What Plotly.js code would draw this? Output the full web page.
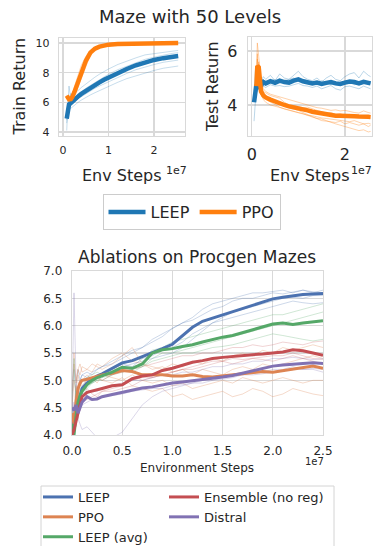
<!DOCTYPE html>
<html>
<head>
<meta charset="utf-8">
<script src="https://cdn.plot.ly/plotly-3.0.1.min.js"></script>
<style>html,body{margin:0;padding:0;background:#fff;}#chart{width:375px;height:546px;}</style>
</head>
<body>
<div id="chart"></div>
<script>
// ---------- Maze with 50 Levels: Train Return (x in units of 1e7 env steps) ----------
const trainX = [0.08,0.1,0.13,0.17,0.2,0.25,0.3,0.35,0.4,0.5,0.6,0.7,0.8,0.9,1.0,1.2,1.4,1.6,1.8,2.0,2.2,2.4,2.53];
const trainLEEP = [4.9,5.65,5.85,5.95,6.05,6.2,6.32,6.45,6.57,6.78,6.98,7.17,7.35,7.52,7.68,7.98,8.25,8.5,8.7,8.86,8.98,9.08,9.13];
const trainPPO  = [6.45,6.3,6.2,6.22,6.35,6.7,7.1,7.5,7.95,8.8,9.35,9.62,9.76,9.84,9.89,9.94,9.96,9.97,9.98,9.99,10.0,10.0,10.0];
const trainLEEPSeed1 = [4.6,5.4,6.2,6.6,6.5,6.6,6.7,6.85,7.0,7.25,7.45,7.7,7.9,8.1,8.25,8.55,8.8,9.0,9.2,9.3,9.4,9.45,9.5];
const trainLEEPSeed2 = [5.0,5.9,5.8,6.0,6.1,6.3,6.45,6.6,6.7,6.95,7.15,7.35,7.55,7.7,7.9,8.2,8.45,8.7,8.9,9.05,9.2,9.3,9.35];
const trainLEEPSeed3 = [4.1,5.5,5.6,5.8,5.9,6.0,6.15,6.3,6.45,6.65,6.9,7.05,7.25,7.45,7.6,7.9,8.2,8.5,8.7,8.9,9.0,9.1,9.2];
const trainLEEPSeed4 = [5.2,5.7,7.1,6.2,6.0,6.1,6.2,6.3,6.4,6.6,6.8,6.95,7.1,7.25,7.4,7.7,7.95,8.2,8.4,8.55,8.7,8.8,8.85];
const trainLEEPSeed5 = [4.8,5.3,5.5,5.6,5.7,5.85,5.95,6.05,6.15,6.35,6.5,6.65,6.8,6.95,7.1,7.35,7.6,7.8,8.0,8.15,8.3,8.4,8.45];
const trainPPOSeed1 = [6.5,6.35,6.3,6.4,6.6,7.1,7.6,8.1,8.5,9.1,9.5,9.7,9.8,9.86,9.9,9.95,9.97,9.98,9.99,10,10,10,10];
const trainPPOSeed2 = [6.4,6.25,6.15,6.2,6.3,6.5,6.8,7.2,7.6,8.5,9.2,9.55,9.72,9.8,9.86,9.92,9.95,9.97,9.98,9.99,10,10,10];

// ---------- Test Return ----------
const testX = [0.05,0.08,0.1,0.12,0.15,0.2,0.25,0.3,0.4,0.5,0.6,0.7,0.8,0.9,1.0,1.1,1.2,1.3,1.4,1.5,1.6,1.7,1.8,1.9,2.0,2.1,2.2,2.3,2.4,2.5,2.55];
const testLEEP = [4.1,4.6,4.75,4.65,4.7,4.72,4.85,4.8,4.88,4.82,4.9,4.85,4.83,4.9,4.95,4.88,4.85,4.8,4.83,4.78,4.82,4.85,4.8,4.78,4.83,4.87,4.85,4.8,4.86,4.82,4.8];
const testPPO  = [null,null,4.7,5.45,5.4,4.5,4.35,4.28,4.2,4.12,4.05,4.0,3.95,3.92,3.88,3.84,3.8,3.75,3.72,3.68,3.63,3.62,3.6,3.6,3.58,3.6,3.58,3.57,3.58,3.56,3.55];
const testLEEPSeed1 = [3.4,4.3,5.0,5.2,4.8,4.9,5.05,4.95,5.1,4.9,5.15,5.0,4.95,5.1,5.25,5.05,4.95,4.9,5.0,4.85,5.0,5.1,4.95,4.9,5.05,5.15,5.2,5.0,5.25,5.1,5.05];
const testLEEPSeed2 = [4.3,4.9,4.6,4.5,4.6,4.55,4.7,4.65,4.75,4.7,4.72,4.68,4.7,4.75,4.8,4.72,4.7,4.65,4.7,4.6,4.65,4.72,4.6,4.55,4.68,4.7,4.65,4.6,4.7,4.62,4.6];
const testLEEPSeed3 = [4.5,5.3,4.8,4.9,4.75,4.8,4.95,4.85,4.9,4.95,4.85,4.9,4.95,5.0,4.9,4.95,4.9,4.85,4.8,4.9,4.85,4.75,4.85,4.8,4.9,4.85,4.75,4.8,4.8,4.85,4.8];
const testPPOSeed1 = [null,null,5.0,6.3,5.8,4.9,4.6,4.5,4.4,4.35,4.3,4.25,4.2,4.15,4.1,4.05,4.0,3.95,3.9,3.88,3.85,3.8,3.82,3.78,3.8,3.75,3.72,3.7,3.78,3.72,3.7];
const testPPOSeed2 = [null,null,4.5,5.7,5.2,4.6,4.4,4.3,4.25,4.15,4.05,3.95,3.9,3.85,3.8,3.72,3.65,3.58,3.5,3.42,3.4,3.38,3.35,3.4,3.3,3.35,3.3,3.25,3.3,3.2,3.25];
const testPPOSeed3 = [null,null,4.3,5.2,5.6,4.4,4.2,4.1,4.0,3.95,3.9,3.85,3.8,3.75,3.72,3.68,3.6,3.55,3.5,3.48,3.42,3.35,3.3,3.25,3.2,3.15,3.1,3.05,3.08,3.0,3.02];
const testPPOSeed4 = [null,null,4.8,5.9,5.0,4.7,4.5,4.45,4.35,4.3,4.25,4.1,4.0,3.98,3.95,3.9,3.92,3.85,3.8,3.75,3.7,3.72,3.65,3.68,3.6,3.65,3.62,3.58,3.55,3.6,3.5];
const testPPOSeed5 = [null,null,4.6,5.3,5.1,4.4,4.25,4.2,4.1,4.0,3.92,3.85,3.8,3.75,3.7,3.65,3.62,3.6,3.55,3.52,3.5,3.48,3.45,3.42,3.4,3.38,3.42,3.35,3.3,3.32,3.3];

// ---------- Ablations on Procgen Mazes ----------
const ablX = [0,0.02,0.04,0.06,0.08,0.1,0.15,0.2,0.25,0.3,0.4,0.5,0.6,0.7,0.8,0.9,1.0,1.1,1.2,1.3,1.4,1.5,1.6,1.7,1.8,1.9,2.0,2.1,2.2,2.3,2.4,2.5];
const ablLEEP     = [4.3,4.1,4.5,4.6,4.7,4.85,4.95,5.02,5.08,5.12,5.22,5.32,5.36,5.43,5.5,5.58,5.66,5.82,5.97,6.08,6.14,6.2,6.26,6.31,6.38,6.44,6.49,6.52,6.55,6.57,6.58,6.59];
const ablPPO      = [4.4,4.2,4.6,4.85,4.95,5.0,5.02,5.05,5.07,5.1,5.13,5.18,5.16,5.1,5.1,5.1,5.08,5.08,5.1,5.07,5.06,5.08,5.1,5.12,5.14,5.16,5.15,5.18,5.2,5.23,5.26,5.22];
const ablLEEPavg  = [4.2,4.0,4.35,4.6,4.72,4.8,4.92,5.0,5.05,5.08,5.15,5.24,5.22,5.3,5.5,5.56,5.58,5.62,5.65,5.7,5.75,5.79,5.82,5.87,5.92,5.98,6.03,6.05,6.02,6.05,6.07,6.09];
const ablEnsemble = [4.0,4.1,4.25,4.4,4.6,4.7,4.78,4.8,4.82,4.85,4.9,4.92,5.03,5.08,5.1,5.18,5.22,5.28,5.33,5.36,5.4,5.42,5.44,5.45,5.47,5.48,5.5,5.52,5.56,5.54,5.5,5.46];
const ablDistral  = [4.5,4.45,4.55,4.4,4.5,4.6,4.7,4.65,4.66,4.7,4.74,4.78,4.82,4.86,4.88,4.92,4.95,4.97,4.99,5.01,5.04,5.06,5.09,5.13,5.18,5.22,5.26,5.28,5.3,5.31,5.32,5.31];
const ablLEEPSeeds = [
  [4.6,4.0,4.9,5.2,5.0,5.1,5.05,5.15,5.2,5.25,5.35,5.45,5.55,5.6,5.7,5.8,5.95,6.05,6.1,6.2,6.3,6.35,6.45,6.5,6.5,6.55,6.6,6.58,6.62,6.65,6.6,6.65],
  [4.0,4.4,4.3,4.5,4.8,4.9,5.0,4.95,5.05,5.1,5.15,5.25,5.3,5.35,5.4,5.45,5.5,5.6,5.75,5.9,6.05,6.15,6.25,6.3,6.35,6.4,6.45,6.5,6.52,6.5,6.55,6.55],
  [4.5,5.2,4.7,4.8,4.6,4.8,4.9,5.05,5.1,5.05,5.2,5.3,5.25,5.4,5.45,5.55,5.6,5.7,5.85,5.95,6.05,6.1,6.15,6.2,6.25,6.3,6.35,6.4,6.45,6.42,6.4,6.42],
  [4.3,4.2,4.6,4.9,5.0,5.1,5.15,5.1,5.2,5.25,5.3,5.4,5.5,5.6,5.75,5.85,5.95,6.05,6.15,6.3,6.4,6.45,6.5,6.55,6.6,6.6,6.62,6.65,6.6,6.65,6.62,6.6]
];
const ablPPOSeeds = [
  [4.8,5.3,5.0,5.2,5.1,5.25,5.2,5.15,5.3,5.25,5.4,5.5,5.35,5.3,5.25,5.2,5.3,5.25,5.35,5.3,5.4,5.35,5.45,5.5,5.45,5.55,5.5,5.6,5.55,5.6,5.65,5.6],
  [4.2,4.6,4.9,4.7,5.0,4.9,5.0,5.05,4.95,5.1,5.05,5.0,5.1,5.0,4.95,5.0,4.9,4.95,4.85,4.9,4.95,5.0,4.95,5.05,5.0,4.95,5.0,5.05,5.0,4.95,5.0,5.0],
  [4.5,5.0,4.8,5.1,4.9,5.0,5.1,5.0,5.05,5.0,4.95,5.05,4.9,4.85,4.8,4.85,4.7,4.75,4.65,4.7,4.75,4.8,4.7,4.75,4.85,4.8,4.7,4.75,4.85,4.8,4.75,4.72],
  [4.6,5.5,4.95,5.2,5.3,5.15,5.2,5.3,5.25,5.2,5.3,5.45,5.6,5.3,5.2,5.25,5.15,5.2,5.1,5.2,5.15,5.1,5.2,5.25,5.2,5.3,5.25,5.3,5.35,5.4,5.45,5.4]
];
const ablLEEPavgSeeds = [
  [4.5,4.2,4.8,4.7,4.9,5.0,5.05,5.1,5.15,5.1,5.2,5.3,5.35,5.4,5.55,5.6,5.7,5.75,5.8,5.85,5.9,5.95,6.0,6.05,6.1,6.15,6.2,6.2,6.25,6.3,6.35,6.4],
  [4.0,4.3,4.5,4.4,4.6,4.7,4.85,4.95,5.0,5.05,5.1,5.2,5.15,5.25,5.4,5.5,5.5,5.55,5.6,5.65,5.7,5.75,5.8,5.85,5.9,5.95,6.0,6.05,6.1,6.15,6.2,6.25],
  [4.6,5.4,4.5,4.6,4.7,4.75,4.9,4.95,5.0,5.0,5.1,5.15,5.2,5.25,5.35,5.4,5.45,5.5,5.5,5.55,5.6,5.62,5.65,5.7,5.75,5.8,5.85,5.82,5.78,5.75,5.72,5.75]
];
const ablEnsembleSeeds = [
  [4.0,4.3,4.6,4.8,4.9,5.0,4.95,5.0,5.05,5.0,5.1,5.15,5.2,5.25,5.3,5.35,5.4,5.45,5.45,5.5,5.5,5.55,5.6,5.6,5.65,5.62,5.65,5.7,5.68,5.65,5.7,5.72],
  [4.2,4.0,4.2,4.5,4.6,4.6,4.65,4.7,4.75,4.8,4.8,4.85,4.9,5.0,5.05,5.1,5.15,5.2,5.25,5.3,5.35,5.35,5.4,5.38,5.4,5.42,5.45,5.45,5.5,5.45,5.4,5.38],
  [4.1,4.4,4.5,4.3,4.7,4.8,4.85,4.75,4.7,4.8,4.85,4.9,5.0,5.05,5.05,5.1,5.15,5.2,5.2,5.25,5.3,5.35,5.3,5.35,5.4,5.38,5.35,5.4,5.45,5.4,5.35,5.3]
];
const ablDistralSeeds = [
  [4.5,6.6,5.0,4.3,4.2,4.1,4.15,4.05,3.95,3.9,3.95,4.05,4.3,4.55,4.7,4.8,4.85,4.9,4.95,5.0,5.0,5.05,5.1,5.1,5.15,5.15,5.2,5.2,5.25,5.2,5.2,5.15],
  [4.3,4.6,4.4,4.5,4.6,4.7,4.75,4.8,4.8,4.85,4.9,4.95,5.0,5.0,5.05,5.1,5.1,5.15,5.15,5.2,5.25,5.25,5.3,5.3,5.35,5.35,5.4,5.4,5.42,5.4,5.38,5.4],
  [4.6,4.3,4.7,4.6,4.5,4.55,4.6,4.65,4.65,4.7,4.72,4.75,4.8,4.82,4.85,4.85,4.9,4.92,4.95,4.95,5.0,5.02,5.05,5.1,5.1,5.12,5.15,5.18,5.2,5.2,5.22,5.2]
];

// ---------- styling ----------
const FONT = 'DejaVu Sans, sans-serif';
const TXT = '#262626';
const GRID = '#d9d9d9';
const TAB_BLUE = '#1f77b4', TAB_ORANGE = '#ff7f0e';
const DEEP = {blue:'#4c72b0', orange:'#dd8452', green:'#55a868', red:'#c44e52', purple:'#8172b3'};

const traces = [];
function faint(x, y, color, xa, ya, op) {
  traces.push({x: x, y: y, type: 'scatter', mode: 'lines', xaxis: xa, yaxis: ya,
    line: {color: color, width: 1}, opacity: op, showlegend: false, hoverinfo: 'skip'});
}
function mean(x, y, color, xa, ya, name, w, show, leg, rank) {
  traces.push({x: x, y: y, type: 'scatter', mode: 'lines', xaxis: xa, yaxis: ya, name: name,
    line: {color: color, width: w}, showlegend: show, legend: leg, legendrank: rank});
}

// top-left
[trainLEEPSeed1, trainLEEPSeed2, trainLEEPSeed3, trainLEEPSeed4, trainLEEPSeed5].forEach(s => faint(trainX, s, TAB_BLUE, 'x', 'y', 0.25));
[trainPPOSeed1, trainPPOSeed2].forEach(s => faint(trainX, s, TAB_ORANGE, 'x', 'y', 0.3));
mean(trainX, trainLEEP, TAB_BLUE, 'x', 'y', 'LEEP', 4.5, true, 'legend', 1);
mean(trainX, trainPPO, TAB_ORANGE, 'x', 'y', 'PPO', 4.5, true, 'legend', 2);
// top-right
[testLEEPSeed1, testLEEPSeed2, testLEEPSeed3].forEach(s => faint(testX, s, TAB_BLUE, 'x2', 'y2', 0.3));
[testPPOSeed1, testPPOSeed2, testPPOSeed3, testPPOSeed4, testPPOSeed5].forEach(s => faint(testX, s, TAB_ORANGE, 'x2', 'y2', 0.35));
mean(testX, testLEEP, TAB_BLUE, 'x2', 'y2', 'LEEP', 4.5, false, 'legend', 1);
mean(testX, testPPO, TAB_ORANGE, 'x2', 'y2', 'PPO', 4.5, false, 'legend', 2);
// bottom
ablLEEPSeeds.forEach(s => faint(ablX, s, DEEP.blue, 'x3', 'y3', 0.28));
ablPPOSeeds.forEach(s => faint(ablX, s, DEEP.orange, 'x3', 'y3', 0.3));
ablLEEPavgSeeds.forEach(s => faint(ablX, s, DEEP.green, 'x3', 'y3', 0.28));
ablEnsembleSeeds.forEach(s => faint(ablX, s, DEEP.red, 'x3', 'y3', 0.25));
ablDistralSeeds.forEach(s => faint(ablX, s, DEEP.purple, 'x3', 'y3', 0.28));
mean(ablX, ablLEEP, DEEP.blue, 'x3', 'y3', 'LEEP', 3, true, 'legend2', 1);
mean(ablX, ablPPO, DEEP.orange, 'x3', 'y3', 'PPO', 3, true, 'legend2', 2);
mean(ablX, ablLEEPavg, DEEP.green, 'x3', 'y3', 'LEEP (avg)', 3, true, 'legend2', 3);
mean(ablX, ablEnsemble, DEEP.red, 'x3', 'y3', 'Ensemble (no reg)', 3, true, 'legend3', 1);
mean(ablX, ablDistral, DEEP.purple, 'x3', 'y3', 'Distral', 3, true, 'legend3', 2);

const W = 375, H = 546;
const px = v => v / W, py = v => 1 - v / H;

function ax(domain, range, dtick, fs, standoff, extra) {
  return Object.assign({domain: domain, range: range, dtick: dtick, tick0: 0,
    showgrid: true, gridcolor: GRID, gridwidth: 1.3, zeroline: false,
    showline: true, linecolor: GRID, linewidth: 1.3, mirror: true,
    ticks: '', ticklabelstandoff: standoff, automargin: false,
    tickfont: {family: FONT, size: fs, color: TXT}, fixedrange: true}, extra || {});
}

function ann(text, x, y, size, extra) {
  return Object.assign({text: text, xref: 'paper', yref: 'paper', x: px(x), y: py(y),
    xanchor: 'center', yanchor: 'middle', showarrow: false,
    font: {family: FONT, size: size, color: TXT}}, extra || {});
}

const legBase = {bgcolor: 'rgba(0,0,0,0)', borderwidth: 0, xanchor: 'left', yanchor: 'top',
  orientation: 'v', font: {family: FONT, size: 13, color: TXT}, itemwidth: 30};

const layout = {
  width: W, height: H,
  margin: {l: 0, r: 0, t: 0, b: 0, pad: 0, autoexpand: false},
  paper_bgcolor: '#ffffff', plot_bgcolor: '#ffffff',
  font: {family: FONT, color: TXT},
  xaxis:  ax([px(59), px(185)], [-0.09, 2.68], 1, 11, 3, {anchor: 'y'}),
  yaxis:  ax([py(136), py(38)], [3.73, 10.34], 2, 11, 6, {anchor: 'x'}),
  xaxis2: ax([px(248), px(372)], [-0.08, 2.58], 2, 16, 3, {anchor: 'y2'}),
  yaxis2: ax([py(136), py(37)], [2.85, 6.52], 2, 16, 6, {anchor: 'x2'}),
  xaxis3: ax([px(72), px(323)], [0, 2.5], 0.5, 12, 4, {anchor: 'y3', tickformat: '.1f'}),
  yaxis3: ax([py(435), py(271)], [4, 7], 0.5, 12, 6, {anchor: 'x3', tickformat: '.1f'}),
  legend: {orientation: 'h', x: px(191.5), y: py(194), xanchor: 'center', yanchor: 'top',
    bgcolor: '#ffffff', bordercolor: '#cccccc', borderwidth: 1,
    font: {family: FONT, size: 16, color: TXT}, itemwidth: 37},
  legend2: Object.assign({}, legBase, {x: px(38), y: py(482)}),
  legend3: Object.assign({}, legBase, {x: px(164), y: py(482)}),
  shapes: [
    {type: 'rect', xref: 'paper', yref: 'paper', x0: px(41), x1: px(334), y0: py(486), y1: py(570),
     line: {color: '#d4d4d4', width: 1}, fillcolor: 'rgba(0,0,0,0)', layer: 'below'}
  ],
  annotations: [
    ann('Maze with 50 Levels', 190, 16, 18),
    ann('Train Return', 19, 86.5, 16, {textangle: -90}),
    ann('Test Return', 212, 87, 16, {textangle: -90}),
    ann('Env Steps', 122, 176, 16),
    ann('Env Steps', 310, 176, 16),
    ann('1e7', 176, 170, 11),
    ann('1e7', 361, 170, 11),
    ann('Ablations on Procgen Mazes', 197.5, 257, 17),
    ann('Environment Steps', 197.5, 468, 12),
    ann('1e7', 314, 461, 10)
  ]
};

Plotly.newPlot('chart', traces, layout, {staticPlot: true, displayModeBar: false});
</script>
</body>
</html>
